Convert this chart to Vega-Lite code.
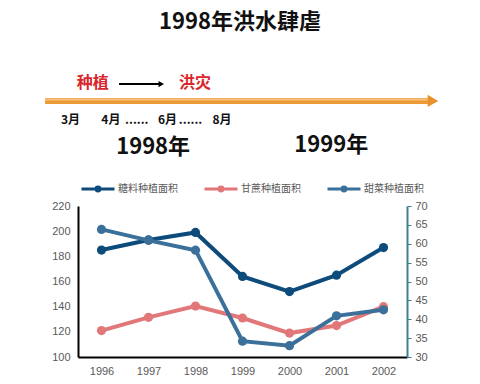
{
  "$schema": "https://vega.github.io/schema/vega-lite/v6.json",
  "padding": 0,
  "background": "white",
  "spacing": 0,
  "config": {"view": {"stroke": null}, "font": "Noto Sans CJK SC"},
  "datasets": {
    "labels": [
      {"label": "1998年洪水肆虐", "x": 50, "y": 10.7, "kind": "title"},
      {"label": "种植", "x": 19.3, "y": 40.3, "kind": "red"},
      {"label": "洪灾", "x": 40.6, "y": 40.3, "kind": "red"},
      {"label": "3月", "x": 14.7, "y": 58.3, "kind": "month"},
      {"label": "4月", "x": 23.1, "y": 58.3, "kind": "month"},
      {"label": "......", "x": 28.5, "y": 58.3, "kind": "month"},
      {"label": "6月", "x": 34.9, "y": 58.3, "kind": "month"},
      {"label": "......", "x": 39.7, "y": 58.3, "kind": "month"},
      {"label": "8月", "x": 46.25, "y": 58.3, "kind": "month"},
      {"label": "1998年", "x": 31.9, "y": 71.4, "kind": "year"},
      {"label": "1999年", "x": 69, "y": 70.4, "kind": "year"}
    ],
    "arrows": [
      {"kind": "timeline", "x": 9.4, "x2": 90.2, "y": 49},
      {"kind": "flow", "x": 24.8, "x2": 33.6, "y": 40.8}
    ],
    "sugar": [
      {"year": "1996", "series": "糖料种植面积", "value": 185},
      {"year": "1997", "series": "糖料种植面积", "value": 193},
      {"year": "1998", "series": "糖料种植面积", "value": 199},
      {"year": "1999", "series": "糖料种植面积", "value": 164},
      {"year": "2000", "series": "糖料种植面积", "value": 152},
      {"year": "2001", "series": "糖料种植面积", "value": 165},
      {"year": "2002", "series": "糖料种植面积", "value": 187},
      {"year": "1996", "series": "甘蔗种植面积", "value": 121},
      {"year": "1997", "series": "甘蔗种植面积", "value": 131.5},
      {"year": "1998", "series": "甘蔗种植面积", "value": 140.5},
      {"year": "1999", "series": "甘蔗种植面积", "value": 131},
      {"year": "2000", "series": "甘蔗种植面积", "value": 119},
      {"year": "2001", "series": "甘蔗种植面积", "value": 125},
      {"year": "2002", "series": "甘蔗种植面积", "value": 140},
      {"year": "1996", "series": "甜菜种植面积", "value": 63.8},
      {"year": "1997", "series": "甜菜种植面积", "value": 60.9},
      {"year": "1998", "series": "甜菜种植面积", "value": 58.3},
      {"year": "1999", "series": "甜菜种植面积", "value": 34.2},
      {"year": "2000", "series": "甜菜种植面积", "value": 33},
      {"year": "2001", "series": "甜菜种植面积", "value": 40.9},
      {"year": "2002", "series": "甜菜种植面积", "value": 42.5}
    ]
  },
  "vconcat": [
    {
      "width": 402,
      "height": 200,
      "encoding": {
        "x": {"field": "x", "type": "quantitative", "scale": {"domain": [16.25, 100], "nice": false, "zero": false}, "axis": null},
        "y": {"field": "y", "type": "quantitative", "scale": {"domain": [0, 97.09], "nice": false, "zero": false, "reverse": true}, "axis": null}
      },
      "layer": [
        {
          "data": {"name": "arrows"},
          "transform": [{"filter": "datum.kind == 'timeline'"}],
          "mark": {"type": "rule", "strokeWidth": 6, "color": "#eb9a35"},
          "encoding": {"x2": {"field": "x2"}}
        },
        {
          "data": {"name": "arrows"},
          "transform": [{"filter": "datum.kind == 'timeline'"}],
          "mark": {"type": "rule", "strokeWidth": 2, "color": "#f7c27c", "yOffset": -1.5},
          "encoding": {"x2": {"field": "x2"}}
        },
        {
          "data": {"name": "arrows"},
          "transform": [{"filter": "datum.kind == 'timeline'"}],
          "mark": {"type": "point", "shape": "triangle-right", "filled": true, "size": 150, "color": "#e8912a", "opacity": 1},
          "encoding": {"x": {"field": "x2", "type": "quantitative"}}
        },
        {
          "data": {"name": "arrows"},
          "transform": [{"filter": "datum.kind == 'flow'"}],
          "mark": {"type": "rule", "strokeWidth": 2, "color": "#000000"},
          "encoding": {"x2": {"field": "x2"}}
        },
        {
          "data": {"name": "arrows"},
          "transform": [{"filter": "datum.kind == 'flow'"}],
          "mark": {"type": "point", "shape": "triangle-right", "filled": true, "size": 40, "color": "#000000", "opacity": 1},
          "encoding": {"x": {"field": "x2", "type": "quantitative"}}
        },
        {
          "data": {"name": "labels"},
          "transform": [{"filter": "datum.kind == 'title'"}],
          "mark": {"type": "text", "fontSize": 22, "fontWeight": "bold", "color": "#111111", "baseline": "middle", "align": "center"},
          "encoding": {"text": {"field": "label"}}
        },
        {
          "data": {"name": "labels"},
          "transform": [{"filter": "datum.kind == 'red'"}],
          "mark": {"type": "text", "fontSize": 16, "fontWeight": "bold", "color": "#d8262c", "baseline": "middle", "align": "center"},
          "encoding": {"text": {"field": "label"}}
        },
        {
          "data": {"name": "labels"},
          "transform": [{"filter": "datum.kind == 'month'"}],
          "mark": {"type": "text", "fontSize": 12, "fontWeight": "bold", "color": "#111111", "baseline": "middle", "align": "center"},
          "encoding": {"text": {"field": "label"}}
        },
        {
          "data": {"name": "labels"},
          "transform": [{"filter": "datum.kind == 'year'"}],
          "mark": {"type": "text", "fontSize": 22, "fontWeight": "bold", "color": "#111111", "baseline": "middle", "align": "center"},
          "encoding": {"text": {"field": "label"}}
        }
      ]
    },
    {
      "width": 329,
      "height": 151,
      "data": {"name": "sugar"},
      "encoding": {
        "x": {
          "field": "year", "type": "ordinal",
          "scale": {"type": "point", "padding": 0.5},
          "axis": {"title": null, "labelAngle": 0, "domainColor": "#000000", "domainWidth": 2, "ticks": false, "labelPadding": 8, "labelColor": "#595959", "labelFont": "Liberation Sans", "labelFontSize": 11, "grid": false}
        },
        "color": {
          "field": "series", "type": "nominal",
          "scale": {"domain": ["糖料种植面积", "甘蔗种植面积", "甜菜种植面积"], "range": ["#0d4b7b", "#e2777a", "#3a7099"]},
          "legend": {
            "orient": "none", "legendX": 2, "legendY": 171, "direction": "horizontal", "title": null,
            "symbolType": "M-1,0H1M-0.12,0A0.12,0.12,0,1,1,0.12,0A0.12,0.12,0,1,1,-0.12,0",
            "symbolSize": 1089, "symbolStrokeWidth": 3, "labelFontSize": 10, "labelColor": "#595959",
            "columnPadding": 20, "labelOffset": 2, "labelFont": "Noto Sans CJK SC"
          }
        }
      },
      "layer": [
        {
          "transform": [{"filter": "datum.series != '甜菜种植面积'"}],
          "mark": {"type": "line", "strokeWidth": 4, "point": {"filled": true, "size": 85}},
          "encoding": {
            "y": {
              "field": "value", "type": "quantitative",
              "scale": {"domain": [100, 220], "nice": false, "zero": false},
              "axis": {"orient": "left", "title": null, "values": [100, 120, 140, 160, 180, 200, 220], "domainColor": "#000000", "domainWidth": 2, "ticks": false, "labelPadding": 8, "labelColor": "#595959", "labelFont": "Liberation Sans", "labelFontSize": 11, "grid": false, "minExtent": 78, "maxExtent": 78}
            }
          }
        },
        {
          "transform": [{"filter": "datum.series == '甜菜种植面积'"}],
          "mark": {"type": "line", "strokeWidth": 4, "point": {"filled": true, "size": 85}},
          "encoding": {
            "y": {
              "field": "value", "type": "quantitative",
              "scale": {"domain": [30, 70], "nice": false, "zero": false},
              "axis": {"orient": "right", "title": null, "values": [30, 35, 40, 45, 50, 55, 60, 65, 70], "domainColor": "#3d7f8e", "domainWidth": 2, "tickColor": "#3d7f8e", "tickSize": 4, "labelPadding": 4, "labelColor": "#595959", "labelFont": "Liberation Sans", "labelFontSize": 11, "grid": false}
            }
          }
        }
      ],
      "resolve": {"scale": {"y": "independent"}}
    }
  ]
}
